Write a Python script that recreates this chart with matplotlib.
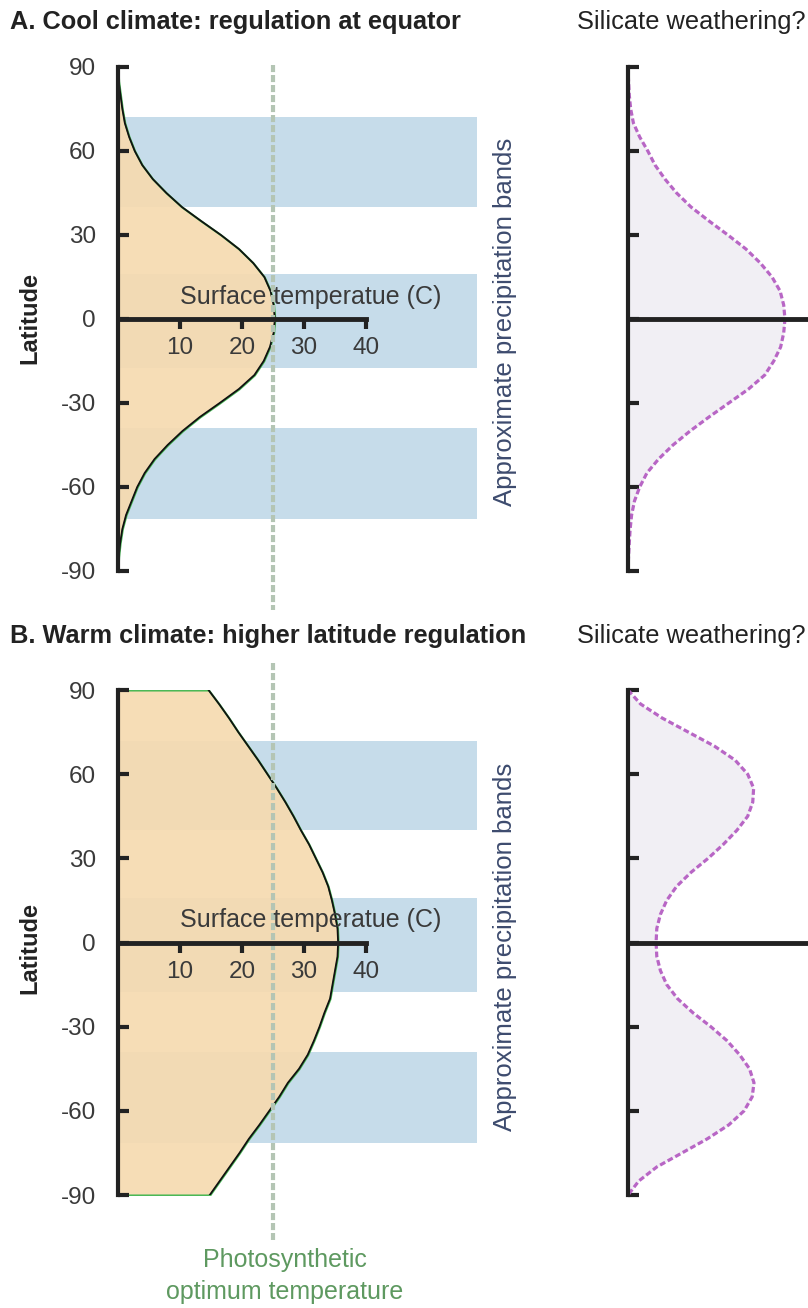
import matplotlib
matplotlib.use('Agg')
import matplotlib.pyplot as plt

plt.rcParams['font.family'] = ['Liberation Sans', 'DejaVu Sans']
plt.rcParams['axes.unicode_minus'] = False

W, H = 808, 1308

# latitude samples, north to south, 5 degree steps
lat = [90, 85, 80, 75, 70, 65, 60, 55, 50, 45, 40, 35, 30, 25, 20, 15, 10, 5, 0,
       -5, -10, -15, -20, -25, -30, -35, -40, -45, -50, -55, -60, -65, -70, -75, -80, -85, -90]

# surface temperature (C)
temp_cool = [0, 0.1, 0.4, 0.7, 1.1, 1.8, 2.7, 3.9, 5.6, 7.8, 10.3, 13.4, 16.6, 19.5, 21.8, 23.6, 24.6, 25.1, 25.3,
             25.1, 24.5, 23.5, 22.0, 19.5, 16.4, 13.2, 10.4, 8.0, 5.9, 4.3, 3.1, 2.2, 1.3, 0.7, 0.35, 0.1, 0]
temp_warm = [14.6, 16.3, 17.9, 19.4, 21.0, 22.6, 24.1, 25.6, 27.0, 28.3, 29.5, 30.8, 31.9, 33.0, 33.9, 34.5, 35.0, 35.4, 35.5,
             35.4, 35.0, 34.6, 34.2, 33.3, 32.5, 31.6, 30.6, 29.2, 27.4, 26.0, 24.4, 22.8, 21.1, 19.6, 18.0, 16.4, 14.8]

# silicate weathering (arbitrary units, 0-100)
weath_cool = [0, 0.3, 0.7, 1.5, 3.0, 6.5, 11, 15, 20.5, 27, 35, 45, 55.5, 65.5, 73.5, 80, 84.5, 86.5, 87.2,
              86.5, 84.8, 81, 76, 67, 56, 45, 34.5, 25, 17, 10.5, 6.5, 3.6, 2.0, 1.2, 0.7, 0.3, 0]
weath_warm = [0, 7, 19, 33.5, 48, 59.5, 66.5, 69.8, 69.3, 66.5, 60.5, 53, 44.5, 35, 27, 21.5, 18, 16, 15.6,
              16, 18, 21.5, 27.5, 36, 46, 55, 62, 67.5, 70, 69, 64.5, 56, 44, 30, 16, 6, 0]

lat_ticks = [-90, -60, -30, 0, 30, 60, 90]
temp_ticks = [10, 20, 30, 40]
optimum_temp = 25
precip_bands = [(40, 72), (-17.5, 16), (-71.5, -39)]

INK = '#222222'
LABEL = '#3a3a3a'
BAND = '#c6dcea'
ORANGE = '#f6dab0'
OPT = '#b4c5b4'
PURPLE = '#b866c5'
LAVENDER = '#f1eff4'


def px_axes(fig, x0, y0, x1, y1):
    return fig.add_axes([x0 / W, 1 - y1 / H, (x1 - x0) / W, (y1 - y0) / H])


def style_spines(ax, bottom_bounds=None):
    for s in ['top', 'right']:
        ax.spines[s].set_visible(False)
    ax.spines['left'].set_linewidth(3)
    ax.spines['left'].set_color(INK)
    ax.spines['left'].set_bounds(-90, 90)
    ax.spines['bottom'].set_position(('data', 0))
    ax.spines['bottom'].set_linewidth(3.5)
    ax.spines['bottom'].set_color(INK)
    if bottom_bounds is not None:
        ax.spines['bottom'].set_bounds(*bottom_bounds)
    ax.set_ylim(-90, 90)
    ax.set_yticks(lat_ticks)
    ax.tick_params(axis='y', direction='in', length=8, width=3, color=INK)


def temp_panel(ax, temp, opt_span):
    ax.set_xlim(0, 57.9)
    for lo, hi in precip_bands:
        ax.axhspan(lo, hi, color=BAND, lw=0, zorder=0)
    ax.fill_betweenx(lat, 0, temp, facecolor=ORANGE, alpha=0.92,
                     edgecolor='#3cb44b', lw=1.5, zorder=1)
    ax.plot(temp, lat, color='#111111', lw=1.3, zorder=2)
    ax.plot([optimum_temp, optimum_temp], opt_span, color=OPT, lw=3,
            dashes=(1.7, 0.7), clip_on=False, zorder=2.2)
    style_spines(ax, bottom_bounds=(0, 40))
    ax.set_xticks(temp_ticks)
    ax.tick_params(axis='x', direction='out', length=7, width=3, color=INK,
                   pad=6, labelsize=17.5, labelcolor=LABEL)
    ax.tick_params(axis='y', pad=16, labelsize=17.5, labelcolor=LABEL)
    ax.text(10, 8, 'Surface temperatue (C)', fontsize=18, color=LABEL,
            ha='left', va='center', zorder=4)


def weathering_panel(ax, w):
    ax.set_xlim(0, 100)
    ax.fill_betweenx(lat, 0, w, color=LAVENDER, lw=0, zorder=0)
    ax.plot(w, lat, color=PURPLE, lw=2.3, dashes=(1.8, 0.9), zorder=2)
    style_spines(ax)
    ax.set_xticks([])
    ax.tick_params(axis='y', labelleft=False)
    for s in ['left', 'bottom']:
        ax.spines[s].set_clip_on(False)


fig = plt.figure(figsize=(W / 100, H / 100), dpi=100)

axA = px_axes(fig, 118, 67, 477, 571)
temp_panel(axA, temp_cool, (90.7, -104))
axB = px_axes(fig, 118, 690, 477, 1195)
temp_panel(axB, temp_warm, (99.5, -106))

wA = px_axes(fig, 628, 67, 808, 571)
weathering_panel(wA, weath_cool)
wB = px_axes(fig, 628, 690, 808, 1195)
weathering_panel(wB, weath_warm)

fig.text(10 / W, 1 - 22 / H, 'A. Cool climate: regulation at equator', fontsize=18.3,
         fontweight='bold', color=INK, ha='left', va='center')
fig.text(577 / W, 1 - 22 / H, 'Silicate weathering?', fontsize=18.3, color=INK,
         ha='left', va='center')
fig.text(10 / W, 1 - 636 / H, 'B. Warm climate: higher latitude regulation', fontsize=18.3,
         fontweight='bold', color=INK, ha='left', va='center')
fig.text(577 / W, 1 - 636 / H, 'Silicate weathering?', fontsize=18.3, color=INK,
         ha='left', va='center')

for yc in (318, 948):
    fig.text(30 / W, 1 - yc / H, 'Latitude', fontsize=17, fontweight='bold', color=INK,
             rotation=90, ha='center', va='center')
for yc in (322, 947):
    fig.text(505 / W, 1 - yc / H, 'Approximate precipitation bands', fontsize=18.5,
             color='#3d4b6e', rotation=90, ha='center', va='center')

fig.text(285 / W, 1 - 1260 / H, 'Photosynthetic', fontsize=18, color='#5e9960',
         ha='center', va='center')
fig.text(285 / W, 1 - 1292 / H, 'optimum temperature', fontsize=18, color='#5e9960',
         ha='center', va='center')

fig.savefig('out.png', dpi=100)
